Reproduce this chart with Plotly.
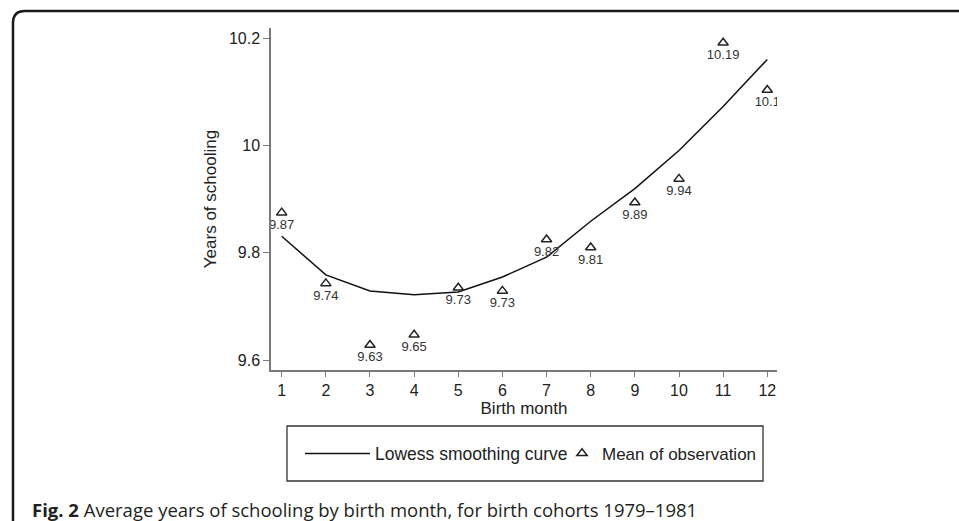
import plotly.graph_objects as go

# ---- data ----
months = [1, 2, 3, 4, 5, 6, 7, 8, 9, 10, 11, 12]
mean_obs = [9.875, 9.743, 9.628, 9.647, 9.735, 9.729, 9.825, 9.810, 9.894, 9.938, 10.192, 10.104]
mean_labels = ["9.87", "9.74", "9.63", "9.65", "9.73", "9.73", "9.82", "9.81", "9.89", "9.94", "10.19", "10.1"]
lowess = [9.831, 9.759, 9.729, 9.722, 9.727, 9.755, 9.792, 9.859, 9.920, 9.991, 10.073, 10.161]
y_ticks = [9.6, 9.8, 10.0, 10.2]
y_tick_text = ["9.6", "9.8", "10", "10.2"]

W, H = 959, 521
PL, PR, PT, PB = 271, 777, 28, 370


def px(x):
    return (x - PL) / (PR - PL)


def py(y):
    return (PB - y) / (PB - PT)


FONT = "Liberation Sans, Arial, sans-serif"
AXC = "#7a7a7a"
TXT = "#222222"

fig = go.Figure()
fig.add_trace(go.Scatter(
    x=months, y=lowess, mode="lines", name="Lowess smoothing curve",
    line=dict(color="#111111", width=1.5), legend="legend",
))
fig.add_trace(go.Scatter(
    x=months, y=mean_obs, mode="markers+text", name="Mean of observation",
    text=mean_labels, textposition="bottom center",
    textfont=dict(family=FONT, size=13, color="#333333"),
    marker=dict(symbol="triangle-up-open", size=9, color="#222222",
                line=dict(color="#222222", width=1.5)),
    legend="legend2",
))

shapes = [
    # legend box
    dict(type="rect", xref="paper", yref="paper",
         x0=px(287), x1=px(763), y0=py(481), y1=py(426),
         line=dict(color="#333333", width=1.3), fillcolor="rgba(0,0,0,0)"),
    # outer rounded frame
    dict(type="path", xref="paper", yref="paper",
         path=(f"M {px(13)},{py(540)} L {px(13)},{py(23)} "
               f"Q {px(13)},{py(11)} {px(25)},{py(11)} L {px(975)},{py(11)}"),
         line=dict(color="#1a1a1a", width=2.5)),
]

leg_common = dict(orientation="h", xanchor="left", y=py(453.7), yanchor="middle",
                  bgcolor="rgba(0,0,0,0)", borderwidth=0)

fig.update_layout(
    width=W, height=H,
    margin=dict(l=PL, r=W - PR, t=PT, b=H - PB, autoexpand=False),
    paper_bgcolor="white", plot_bgcolor="white",
    font=dict(family=FONT, size=16, color=TXT),
    showlegend=True,
    legend=dict(x=px(300), itemwidth=65, font=dict(family=FONT, size=17.5, color=TXT), **leg_common),
    legend2=dict(x=px(562), itemwidth=30, font=dict(family=FONT, size=17, color=TXT), **leg_common),
    shapes=shapes,
    annotations=[dict(
        xref="paper", yref="paper", x=px(30), y=py(509),
        xanchor="left", yanchor="middle", showarrow=False,
        text="<b>Fig. 2</b> Average years of schooling by birth month, for birth cohorts 1979–1981",
        font=dict(family="Open Sans, Noto Sans, sans-serif", size=18.5, color="#231f20"),
    )],
)

fig.update_xaxes(
    range=[0.758, 12.22], tickvals=months, ticktext=[str(m) for m in months],
    showgrid=False, zeroline=False, showline=True, linecolor=AXC, linewidth=1.5,
    ticks="outside", ticklen=5, tickcolor=AXC, tickwidth=1.2,
    tickfont=dict(family=FONT, size=16, color=TXT),
    title=dict(text="Birth month", standoff=4,
               font=dict(family=FONT, size=17, color=TXT)),
)
fig.update_yaxes(
    range=[9.5814, 10.2196], tickvals=y_ticks, ticktext=y_tick_text,
    showgrid=False, zeroline=False, showline=True, linecolor=AXC, linewidth=1.5,
    ticks="outside", ticklen=6, tickcolor=AXC, tickwidth=1.2,
    tickfont=dict(family=FONT, size=16, color=TXT),
    title=dict(text="Years of schooling", standoff=8,
               font=dict(family=FONT, size=17, color=TXT)),
)

fig.write_html("out.html", config={"displayModeBar": False},
               post_script="document.body.style.margin='0px';document.body.style.overflow='hidden';")
